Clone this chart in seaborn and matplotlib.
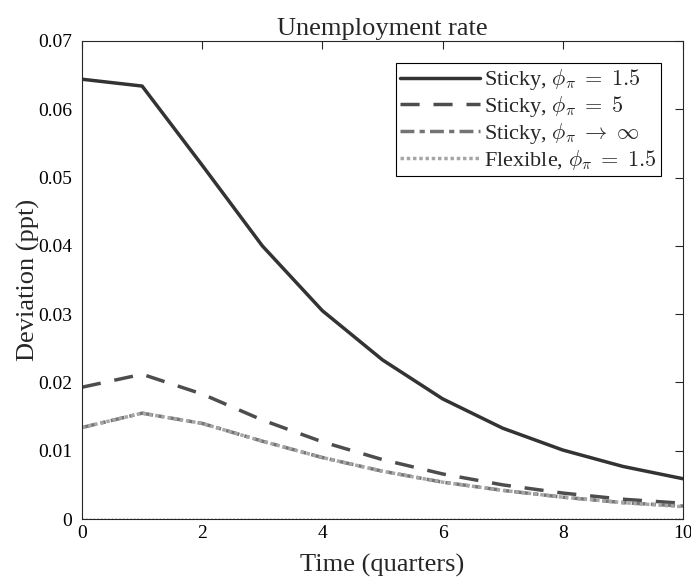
import numpy as np
import pandas as pd
import matplotlib
matplotlib.use("Agg")
import matplotlib.pyplot as plt
from matplotlib.ticker import FuncFormatter
import seaborn as sns

# ==========================================
# Data
# ==========================================

quarters = list(range(11))

sticky_15 = [0.0644, 0.0634, 0.0518, 0.0400, 0.0305, 0.0233, 0.0176, 0.0133, 0.0101, 0.0077, 0.0059]
sticky_5 = [0.0193, 0.0212, 0.0183, 0.0145, 0.0113, 0.0087, 0.0066, 0.0050, 0.0038, 0.0029, 0.0023]
sticky_inf = [0.0134, 0.0155, 0.0140, 0.0114, 0.0090, 0.0070, 0.0054, 0.0042, 0.0032, 0.0024, 0.0019]
flexible_15 = [0.0134, 0.0155, 0.0140, 0.0114, 0.0090, 0.0070, 0.0054, 0.0042, 0.0032, 0.0024, 0.0018]

labels = [
    r"Sticky, $\phi_\pi\;=\;1.5$",
    r"Sticky, $\phi_\pi\;=\;5$",
    r"Sticky, $\phi_\pi\;\rightarrow\;\infty$",
    r"Flexible, $\phi_\pi\;=\;1.5$",
]
series = [sticky_15, sticky_5, sticky_inf, flexible_15]

df = pd.concat(
    [pd.DataFrame({"t": quarters, "dev": vals, "case": lab}) for lab, vals in zip(labels, series)],
    ignore_index=True,
)

# ==========================================
# Style
# ==========================================

sns.set_style("white")
plt.rcParams["font.family"] = ["Liberation Serif", "DejaVu Serif"]
plt.rcParams["mathtext.fontset"] = "cm"

colors = {labels[0]: "#333333", labels[1]: "#4d4d4d", labels[2]: "#747474", labels[3]: "#a6a6a6"}
dashes = {labels[0]: "", labels[1]: (5.5, 4), labels[2]: (4, 1.5, 1.5, 1.5), labels[3]: (1, 0.8)}

fig = plt.figure(figsize=(6.91, 5.79), dpi=100)
ax = fig.add_axes([0.1187, 0.1036, 0.8697, 0.8256])

sns.lineplot(
    data=df, x="t", y="dev", hue="case", style="case",
    palette=colors, dashes=dashes, linewidth=2.5, ax=ax,
)

# dotted zero line
ax.axhline(0, color="black", linestyle=":", linewidth=1.0, zorder=0)

ax.set_xlim(0, 10)
ax.set_ylim(0, 0.07)
ax.set_xticks([0, 2, 4, 6, 8, 10])
ax.set_yticks(np.arange(0, 0.071, 0.01))
ax.yaxis.set_major_formatter(FuncFormatter(lambda v, p: "0" if abs(v) < 1e-9 else f"{v:.2f}"))

ax.tick_params(direction="in", top=True, right=True, length=6, width=0.8,
               labelsize=14, color="#262626", labelcolor="black")
ax.tick_params(axis="y", pad=7)
ax.tick_params(axis="x", pad=4)
for sp in ax.spines.values():
    sp.set_color("#262626")
    sp.set_linewidth(0.8)

ax.set_title("Unemployment rate", fontsize=19, pad=4)
ax.set_xlabel("Time (quarters)", fontsize=19, labelpad=9)
ax.set_ylabel("Deviation (ppt)", fontsize=19, labelpad=-1)

leg = ax.legend(
    loc="upper right", fontsize=16, handlelength=3.6, handletextpad=0.15,
    labelspacing=0.08, borderpad=0.2, borderaxespad=0, fancybox=False, framealpha=1,
    edgecolor="black", bbox_to_anchor=(0.9634, 0.954),
)
leg.get_frame().set_linewidth(0.8)

plt.savefig("out.png", dpi=100)
plt.close()
